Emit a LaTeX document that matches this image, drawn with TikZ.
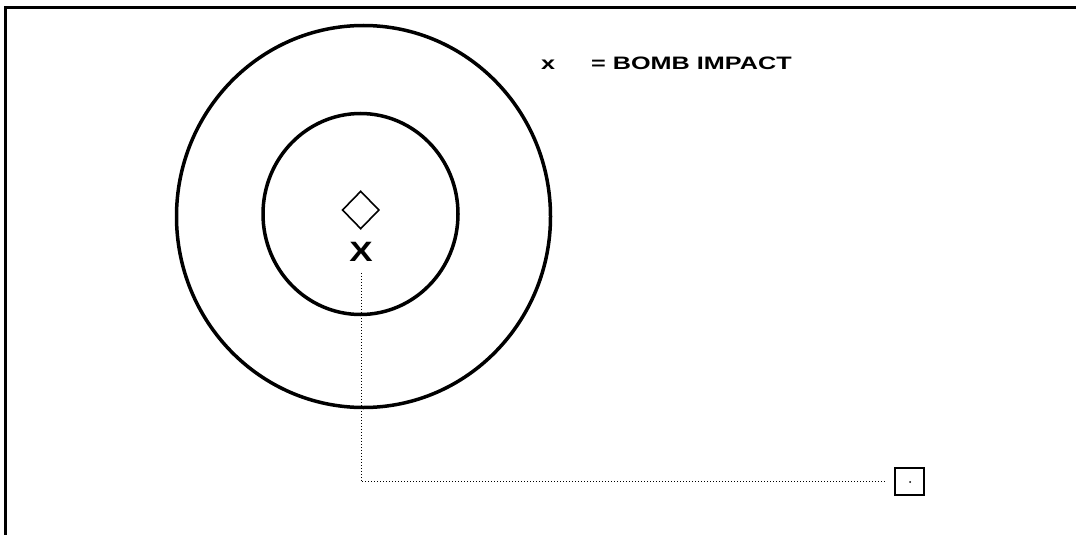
\documentclass[tikz,border=0pt]{standalone}
\usepackage{fontspec}
\setmainfont{Liberation Sans}
\usetikzlibrary{shapes.geometric}
\tikzset{
  ring/.style={line width=3.5pt},
  frameline/.style={line width=3pt},
  leader/.style={dotted, line width=1pt},
  lbl/.style={font=\bfseries\fontsize{18}{20}\selectfont, inner sep=0pt},
}
\begin{document}
\begin{tikzpicture}[x=1pt,y=-1pt]
\useasboundingbox (0,0) rectangle (1076,535);
% frame (top and left edges)
\draw[frameline] (1076,7.5) -- (5,7.5) -- (5,535);
% circles
\draw[ring] (363.5,216.5) ellipse [x radius=187, y radius=191];
\draw[ring] (360.5,214) ellipse [x radius=97.5, y radius=100.5];
% target diamond
\node[draw, diamond, line width=1.6pt, inner sep=0pt, minimum width=37pt, minimum height=38pt] (tgt) at (360.7,210) {};
% impact mark
\node[inner sep=0pt, font=\bfseries\fontsize{28}{30}\selectfont] (imp) at (361,252) {\scalebox{1.25}[1]{X}};
% remote box
\node[draw, line width=1.3pt, minimum width=29pt, minimum height=27pt, inner sep=0pt] (box) at (909.5,481.5) {};
\node[fill, circle, inner sep=0pt, minimum size=2pt] (dot) at (910,482) {};
% leader line
\draw[leader, shorten <=11pt, shorten >=8pt] (imp.south) |- (box.west);
% legend
\node[lbl, anchor=base west] (lx) at (541,70) {\scalebox{1.4}[1]{x}};
\node[lbl, anchor=base west] (lt) at (591,70) {\scalebox{1.4}[1]{= BOMB IMPACT}};
\end{tikzpicture}
\end{document}
